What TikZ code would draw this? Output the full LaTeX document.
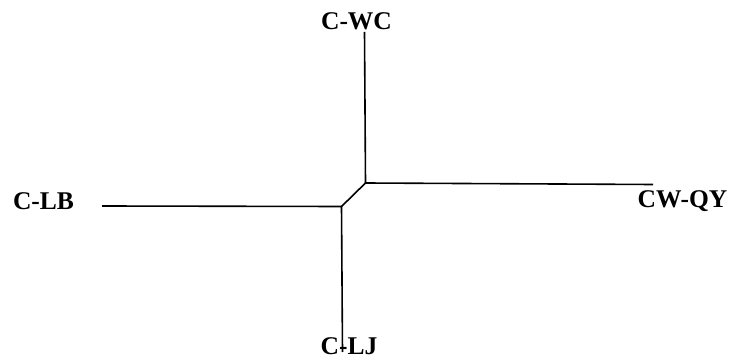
\documentclass[tikz,border=0pt]{standalone}
\usepackage{fontspec}
\setmainfont{Liberation Serif}
\begin{document}
\begin{tikzpicture}[x=1pt,y=-1pt,
  lbl/.style={font=\fontsize{25.5}{28}\selectfont\bfseries, anchor=base, inner sep=0pt},
  branch/.style={line width=1.6pt, line cap=butt, line join=miter}]
\useasboundingbox (0,0) rectangle (731,363);
% labels at the four leaves
\node[lbl] (wc) at (356.5,30) {C-WC};
\node[lbl] (lb) at (43.5,210) {C-LB};
\node[lbl] (qy) at (682.5,208) {CW-QY};
\node[lbl] (lj) at (349,355) {C-LJ};
% internal nodes and branch ends
\coordinate (j1) at (365.5,183);
\coordinate (j2) at (341.5,206.5);
\coordinate (ewc) at (364.5,32);
\coordinate (elb) at (102,206);
\coordinate (eqy) at (653,184.5);
\coordinate (elj) at (342.5,352);
% branches
\draw[branch] (ewc) -- (j1) -- (eqy);
\draw[branch] (j1) -- (j2);
\draw[branch] (elb) -- (j2) -- (elj);
\end{tikzpicture}
\end{document}
